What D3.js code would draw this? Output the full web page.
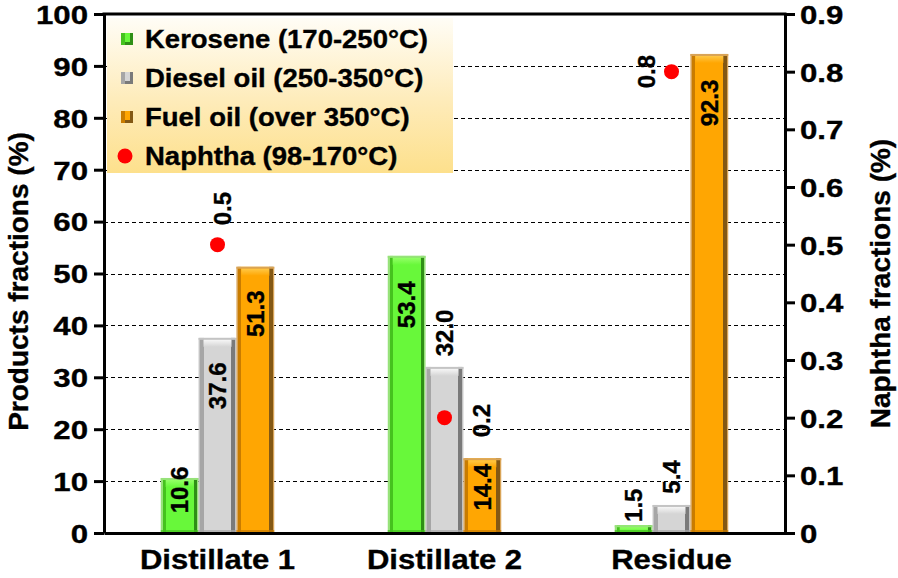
<!DOCTYPE html>
<html><head><meta charset="utf-8">
<script src="https://cdn.jsdelivr.net/npm/d3@7"></script>
<style>
body{margin:0;background:#fff}
svg{display:block}
text{font-family:"Liberation Sans",Arial,Helvetica,sans-serif;font-weight:bold;fill:#000;stroke:#000;stroke-width:0.35px}
</style>
</head><body>
<svg id="chart" width="898" height="578"></svg>
<script>
// ---------- data ----------
const categories = ["Distillate 1", "Distillate 2", "Residue"];
const seriesNames = ["Kerosene (170-250°C)", "Diesel oil (250-350°C)", "Fuel oil (over 350°C)"];
const kerosene = [10.6, 53.4, 1.5];
const dieselOil = [37.6, 32.0, 5.4];
const fuelOil = [51.3, 14.4, 92.3];
const naphthaName = "Naphtha (98-170°C)";
const naphtha = [0.5, 0.2, 0.8];
const leftTicks = [0, 10, 20, 30, 40, 50, 60, 70, 80, 90, 100];
const rightTicks = [0, 0.1, 0.2, 0.3, 0.4, 0.5, 0.6, 0.7, 0.8, 0.9];
const leftTitle = "Products fractions (%)";
const rightTitle = "Naphtha fractions (%)";

// ---------- layout / style ----------
const plot = {left: 104, right: 785, top: 14, bottom: 533};
const seriesValues = [kerosene, dieselOil, fuelOil];
const palette = [
  {outer:"#97e27a", left:"#45c21e", main:"#68f83a", right:"#2f8f16", hi:"#93ff66"},
  {outer:"#c4c4c4", left:"#a6a6a6", main:"#d5d5d5", right:"#7a7a7a", hi:"#f6f6f6"},
  {outer:"#d9a457", left:"#c97c00", main:"#ffa602", right:"#835814", hi:"#ffc846"}
];
// value-label centre offset from bar top (px, negative = above the bar)
const valueLabelShift = [[12, 48, 47], [49, -34, 29], [-20, -28, 49]];
// naphtha label offset from its dot (px)
const naphthaLabelShift = [[5, -36], [37, 3], [-25, 0]];

const svg = d3.select("#chart");
const defs = svg.append("defs");

const x = d3.scaleBand().domain(categories).range([plot.left, plot.right]).padding(0);
const xs = d3.scaleBand().domain(d3.range(3)).range([0, x.bandwidth()]).paddingInner(0).paddingOuter(1.5);
const yL = d3.scaleLinear().domain([0, 100]).range([plot.bottom, plot.top]);
const yR = d3.scaleLinear().domain([0, 0.9]).range([plot.bottom, plot.top]);

// gradients
palette.forEach((c, i) => {
  const g = defs.append("linearGradient").attr("id", "bar" + i).attr("x1", 0).attr("x2", 1).attr("y1", 0).attr("y2", 0);
  [[0, c.outer], [0.05, c.outer], [0.05, c.left], [0.13, c.left], [0.13, c.main], [0.87, c.main],
   [0.87, c.right], [0.96, c.right], [0.96, c.outer], [1, c.outer]]
    .forEach(([o, col]) => g.append("stop").attr("offset", o).attr("stop-color", col));
  const h = defs.append("linearGradient").attr("id", "hi" + i).attr("x1", 0).attr("x2", 0).attr("y1", 0).attr("y2", 1);
  h.append("stop").attr("offset", 0).attr("stop-color", c.hi);
  h.append("stop").attr("offset", 1).attr("stop-color", c.main);
});
const lg = defs.append("linearGradient").attr("id", "legendBg").attr("x1", 0).attr("x2", 0).attr("y1", 0).attr("y2", 1);
lg.append("stop").attr("offset", 0).attr("stop-color", "#fffdf6");
lg.append("stop").attr("offset", 0.55).attr("stop-color", "#feebb8");
lg.append("stop").attr("offset", 1).attr("stop-color", "#fde08c");

// gridlines
svg.append("g").selectAll("line").data(leftTicks.filter(t => t > 0 && t < 100)).join("line")
  .attr("x1", plot.left).attr("x2", plot.right)
  .attr("y1", d => Math.round(yL(d)) + 0.5).attr("y2", d => Math.round(yL(d)) + 0.5)
  .attr("stroke", "#000").attr("stroke-width", 1).attr("stroke-dasharray", "4,3");

// bars
const barData = [];
categories.forEach((cat, ci) => seriesValues.forEach((vals, si) => barData.push({cat, ci, si, v: vals[ci]})));
svg.append("g").selectAll("g").data(barData).join("g").each(function(d) {
  const g = d3.select(this);
  const bx = x(d.cat) + xs(d.si), bw = xs.bandwidth();
  const by = yL(d.v), bh = plot.bottom - by;
  const c = palette[d.si];
  g.append("rect").attr("x", bx).attr("y", by).attr("width", bw).attr("height", bh).attr("fill", "url(#bar" + d.si + ")");
  g.append("rect").attr("x", bx).attr("y", by).attr("width", bw).attr("height", Math.min(2, bh)).attr("fill", c.outer);
  if (bh > 6) {
    g.append("rect").attr("x", bx + bw * 0.13).attr("y", by + 2).attr("width", bw * 0.74)
      .attr("height", Math.min(7, bh - 4)).attr("fill", "url(#hi" + d.si + ")");
  }
  g.append("rect").attr("x", bx).attr("y", plot.bottom - Math.min(3, bh)).attr("width", bw)
    .attr("height", Math.min(3, bh)).attr("fill", c.left).attr("opacity", 0.7);
});

// bar value labels
svg.append("g").selectAll("text").data(barData).join("text")
  .attr("transform", d => {
    const cx = x(d.cat) + xs(d.si) + xs.bandwidth() / 2;
    const cy = yL(d.v) + valueLabelShift[d.ci][d.si];
    return `translate(${cx},${cy}) rotate(-90)`;
  })
  .attr("text-anchor", "middle").attr("dominant-baseline", "central")
  .style("font-size", "24px")
  .text(d => d.v.toFixed(1));

// naphtha dots
const nData = categories.map((cat, ci) => ({cat, ci, v: naphtha[ci]}));
svg.append("g").selectAll("circle").data(nData).join("circle")
  .attr("cx", d => x(d.cat) + x.bandwidth() / 2).attr("cy", d => yR(d.v)).attr("r", 7.5).attr("fill", "#ff0000");
svg.append("g").selectAll("text").data(nData).join("text")
  .attr("transform", d => `translate(${x(d.cat) + x.bandwidth() / 2 + naphthaLabelShift[d.ci][0]},${yR(d.v) + naphthaLabelShift[d.ci][1]}) rotate(-90)`)
  .attr("text-anchor", "middle").attr("dominant-baseline", "central")
  .style("font-size", "24px")
  .text(d => d.v.toFixed(1));

// axes
const axL = svg.append("g").attr("transform", `translate(${plot.left},0)`)
  .call(d3.axisLeft(yL).tickValues(leftTicks).tickFormat(d3.format("d")).tickSize(10).tickSizeOuter(0));
const axR = svg.append("g").attr("transform", `translate(${plot.right},0)`)
  .call(d3.axisRight(yR).tickValues(rightTicks).tickFormat(d => d === 0 ? "0" : d3.format(".1f")(d)).tickSize(10).tickSizeOuter(0));
[axL, axR].forEach(a => {
  a.select(".domain").attr("stroke-width", 3).attr("stroke", "#000");
  a.selectAll(".tick line").attr("stroke-width", 3).attr("stroke", "#000");
  a.selectAll(".tick text").style("font-size", "26px").attr("fill", "#000").attr("font-family", null);
});
axL.selectAll(".tick text").attr("x", null).attr("dy", "0.36em").attr("transform", "translate(-16,0) scale(1.2,1)");
axR.selectAll(".tick text").attr("x", null).attr("dy", "0.36em").attr("transform", "translate(15,0) scale(1.2,1)");
svg.append("line").attr("x1", plot.left - 1.5).attr("x2", plot.right + 1.5).attr("y1", plot.top).attr("y2", plot.top)
  .attr("stroke", "#000").attr("stroke-width", 3);
const axB = svg.append("g").attr("transform", `translate(0,${plot.bottom})`)
  .call(d3.axisBottom(x).tickSize(0).tickSizeOuter(0));
axB.select(".domain").attr("stroke-width", 3).attr("stroke", "#000");
axB.selectAll(".tick text").style("font-size", "27px").attr("fill", "#000").attr("font-family", null)
  .attr("y", null).attr("dy", null).attr("transform", "translate(0,36) scale(1.15,1)");

// axis titles
svg.append("text").attr("transform", `translate(18,${(plot.top + plot.bottom) / 2 + 8}) rotate(-90)`)
  .attr("text-anchor", "middle").attr("dominant-baseline", "central").style("font-size", "28px").text(leftTitle);
svg.append("text").attr("transform", `translate(880,${(plot.top + plot.bottom) / 2 + 10}) rotate(-90)`)
  .attr("text-anchor", "middle").attr("dominant-baseline", "central").style("font-size", "28px").text(rightTitle);

// legend
const leg = svg.append("g");
leg.append("rect").attr("x", 107).attr("y", 18).attr("width", 346).attr("height", 155).attr("fill", "url(#legendBg)");
const legItems = seriesNames.map((n, i) => ({n, i})).concat([{n: naphthaName, i: 3}]);
const legRowY = d3.scalePoint().domain(d3.range(4)).range([39, 156]);
legItems.forEach(d => {
  const cy = legRowY(d.i);
  if (d.i < 3) {
    const c = palette[d.i];
    leg.append("rect").attr("x", 121).attr("y", cy - 6).attr("width", 12).attr("height", 12).attr("fill", c.right);
    leg.append("rect").attr("x", 121).attr("y", cy - 6).attr("width", 9).attr("height", 9).attr("fill", c.main);
    leg.append("rect").attr("x", 121).attr("y", cy - 6).attr("width", 4).attr("height", 12).attr("fill", c.left);
  } else {
    leg.append("circle").attr("cx", 125).attr("cy", cy).attr("r", 7.5).attr("fill", "#ff0000");
  }
  leg.append("text").attr("transform", `translate(145,${cy}) scale(1.1,1)`)
    .attr("dominant-baseline", "central").style("font-size", "25px").text(d.n);
});
</script>
</body></html>
